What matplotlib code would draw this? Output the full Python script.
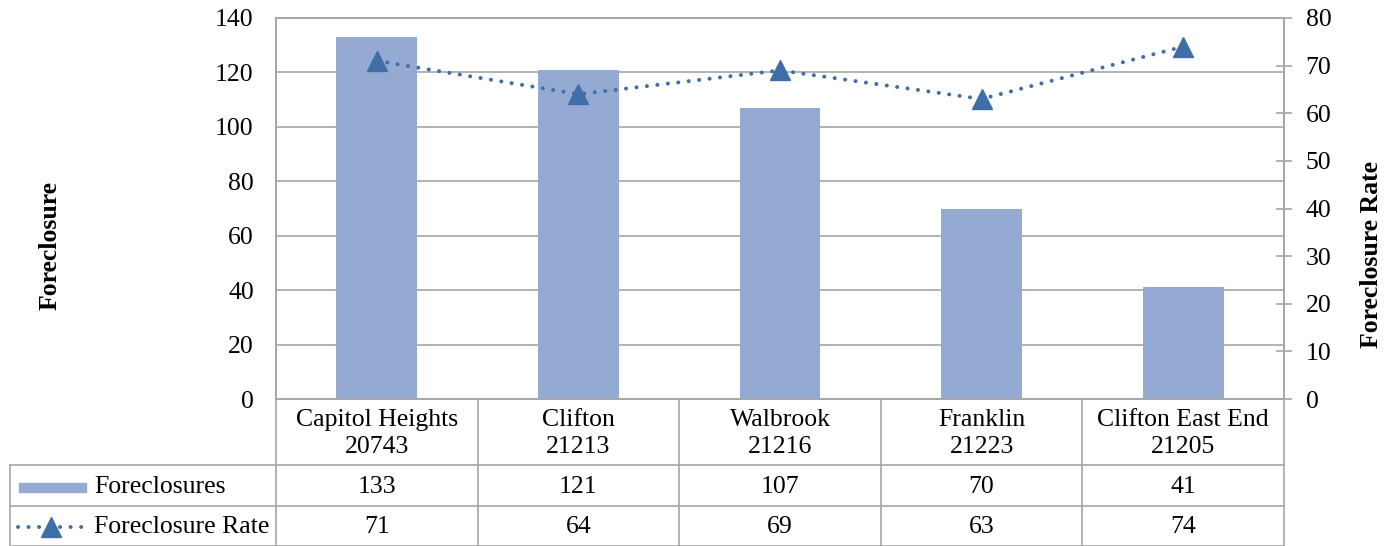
import numpy as np
import matplotlib
matplotlib.use('Agg')
import matplotlib.pyplot as plt
from matplotlib.transforms import blended_transform_factory
from matplotlib.lines import Line2D
from matplotlib.patches import Rectangle

# data
neighborhoods = ['Capitol Heights', 'Clifton', 'Walbrook', 'Franklin', 'Clifton East End']
zipcodes = ['20743', '21213', '21216', '21223', '21205']
foreclosures = [133, 121, 107, 70, 41]
rates = [71, 64, 69, 63, 74]

BAR_COLOR = '#95aad2'
LINE_COLOR = '#3f6ea8'
GRID = '#a6a6a6'
FS = 18.5
DOTS = (0, (0.01, 2.6))

plt.rcParams['font.family'] = ['Liberation Serif', 'DejaVu Serif']

W, H = 1396, 546
fig = plt.figure(figsize=(W / 100, H / 100), dpi=100)

def px(l, t, r, b):
    return [l / W, 1 - b / H, (r - l) / W, (b - t) / H]

ax = fig.add_axes(px(276, 18, 1284, 399))
x = np.arange(len(neighborhoods))
ax.bar(x, foreclosures, width=0.4, color=BAR_COLOR, zorder=2)
ax.set_xlim(-0.5, len(x) - 0.5)
ax.set_ylim(0, 140)
ax.set_yticks(np.arange(0, 141, 20))
ax.set_xticks([])
ax.yaxis.grid(True, color=GRID, linewidth=1.2, zorder=0)
ax.set_axisbelow(True)
ax.tick_params(axis='y', length=0, pad=16, labelsize=FS)
for s in ax.spines.values():
    s.set_color(GRID)
    s.set_linewidth(1.2)

ax2 = ax.twinx()
ax2.plot(x, rates, color=LINE_COLOR, linestyle=DOTS, linewidth=2.9,
         dash_capstyle='round', marker='^', markersize=15, zorder=3)
ax2.set_ylim(0, 80)
ax2.set_yticks(np.arange(0, 81, 10))
ax2.tick_params(axis='y', direction='inout', length=11, width=1.2, color=GRID,
                pad=10, labelsize=FS)
for s in ax2.spines.values():
    s.set_color(GRID)
    s.set_linewidth(1.2)

fig.text(50 / W, 1 - 245 / H, 'Foreclosure', rotation=90, fontsize=FS,
         fontweight='bold', ha='center', va='center')
fig.text(1372 / W, 1 - 255 / H, 'Foreclosure Rate', rotation=90, fontsize=FS,
         fontweight='bold', ha='center', va='center')

# data table below the plot
tr = blended_transform_factory(ax.transData, fig.transFigure)
def fy(p):
    return 1 - p / H

left = -0.5 - 266 / 201.6
lw = 1.2
for i in range(len(x) + 1):
    fig.add_artist(Line2D([i - 0.5, i - 0.5], [fy(399), fy(545.5)], transform=tr,
                          color=GRID, linewidth=lw))
fig.add_artist(Line2D([left, left], [fy(465), fy(545.5)], transform=tr, color=GRID, linewidth=lw))
for yy in [465, 506, 545.5]:
    fig.add_artist(Line2D([left, len(x) - 0.5], [fy(yy), fy(yy)], transform=tr,
                          color=GRID, linewidth=lw))

for i in x:
    fig.text(i, fy(420), neighborhoods[i], transform=tr, ha='center', va='center', fontsize=FS)
    fig.text(i, fy(447), zipcodes[i], transform=tr, ha='center', va='center', fontsize=FS)
    fig.text(i, fy(487), str(foreclosures[i]), transform=tr, ha='center', va='center', fontsize=FS)
    fig.text(i, fy(527), str(rates[i]), transform=tr, ha='center', va='center', fontsize=FS)

# legend keys in the table
fig.add_artist(Rectangle((19 / W, fy(492)), 67 / W, 9 / H, transform=fig.transFigure,
                         color=BAR_COLOR))
fig.add_artist(Line2D([18 / W, 86 / W], [fy(527), fy(527)], transform=fig.transFigure,
                      color=LINE_COLOR, linestyle=DOTS, linewidth=2.9,
                      dash_capstyle='round'))
fig.add_artist(Line2D([51 / W], [fy(527)], transform=fig.transFigure, color=LINE_COLOR,
                      marker='^', markersize=15, linestyle='none'))
fig.text(94 / W, fy(487), 'Foreclosures', ha='left', va='center', fontsize=FS)
fig.text(94 / W, fy(527), 'Foreclosure Rate', ha='left', va='center', fontsize=FS)

fig.savefig('out.png', dpi=100)
